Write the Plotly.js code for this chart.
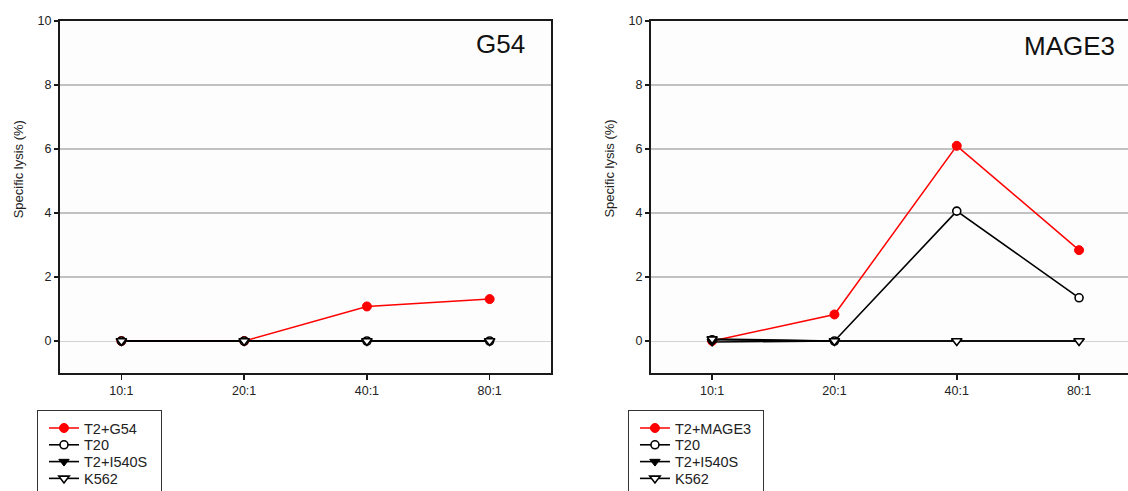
<!DOCTYPE html>
<html>
<head>
<meta charset="utf-8">
<script src="https://cdn.plot.ly/plotly-3.0.1.min.js"></script>
<style>
  html, body { margin: 0; padding: 0; background: #fff; overflow: hidden; }
  #chart { width: 1128px; height: 491px; }
</style>
</head>
<body>
<div id="chart"></div>
<script>
// Effector:target ratios on the x axis
const ratios = ["10:1", "20:1", "40:1", "80:1"];

// Panel G54 – specific lysis (%)
const g54Peptide = [0, 0, 1.08, 1.31];
const g54T20 = [0, 0, 0, 0];
const g54I540S = [0, 0, 0, 0];
const g54K562 = [0, 0, 0, 0];

// Panel MAGE3 – specific lysis (%)
const mage3Peptide = [0, 0.83, 6.1, 2.84];
const mage3T20 = [0.04, 0, 4.06, 1.35];
const mage3I540S = [-0.03, 0, 0, 0];
const mage3K562 = [0.06, 0, 0, 0];

const yTicks = [0, 2, 4, 6, 8, 10];
const panelTitles = ["G54", "MAGE3"];
const yTitle = "Specific lysis (%)";

const RED = "#ff0000";
const BLACK = "#000000";
const FONT = "Arial, Liberation Sans, sans-serif";

function series(name, values, xa, ya, legend, style) {
  return Object.assign({
    type: "scatter",
    mode: "lines+markers",
    name: name,
    x: ratios,
    y: values,
    xaxis: xa,
    yaxis: ya,
    legend: legend,
    cliponaxis: false
  }, style);
}

const sPeptide = {
  line: { color: RED, width: 1.5 },
  marker: { symbol: "circle", size: 9, color: RED, line: { color: RED, width: 1 } }
};
const sT20 = {
  line: { color: BLACK, width: 1.6 },
  marker: { symbol: "circle", size: 8, color: "#ffffff", line: { color: BLACK, width: 1.6 } }
};
const sI540S = {
  line: { color: BLACK, width: 1.6 },
  marker: { symbol: "triangle-down", size: 9, color: BLACK, line: { color: BLACK, width: 1 } }
};
const sK562 = {
  line: { color: BLACK, width: 1.6 },
  marker: { symbol: "triangle-down", size: 9, color: "#ffffff", line: { color: BLACK, width: 1.6 } }
};

const data = [
  series("T2+G54", g54Peptide, "x", "y", "legend", sPeptide),
  series("T20", g54T20, "x", "y", "legend", sT20),
  series("T2+I540S", g54I540S, "x", "y", "legend", sI540S),
  series("K562", g54K562, "x", "y", "legend", sK562),
  series("T2+MAGE3", mage3Peptide, "x2", "y2", "legend2", sPeptide),
  series("T20", mage3T20, "x2", "y2", "legend2", sT20),
  series("T2+I540S", mage3I540S, "x2", "y2", "legend2", sI540S),
  series("K562", mage3K562, "x2", "y2", "legend2", sK562)
];

const tickFont = { family: FONT, size: 12.5, color: "#222" };

function xAxis(domain, range, anchor) {
  return {
    domain: domain,
    anchor: anchor,
    type: "category",
    range: range,
    showline: true, linecolor: "#1a1a1a", linewidth: 2, mirror: true,
    ticks: "outside", ticklen: 5, tickwidth: 1.5, tickcolor: "#1a1a1a",
    showgrid: false, zeroline: false,
    tickfont: tickFont, fixedrange: true
  };
}
function yAxis(anchor, mirror) {
  return {
    domain: [0.2403, 0.9572],
    anchor: anchor,
    range: [-1, 10],
    tickvals: yTicks,
    showline: true, linecolor: "#1a1a1a", linewidth: 2, mirror: mirror,
    ticks: "outside", ticklen: 4, tickwidth: 1.5, tickcolor: "#1a1a1a",
    showgrid: true, gridcolor: "#c2c2c2", gridwidth: 1.8,
    zeroline: true, zerolinecolor: "#d2d2d2", zerolinewidth: 1,
    tickfont: tickFont,
    fixedrange: true
  };
}

const legendStyle = (x) => ({
  x: x, y: 0.165, xanchor: "left", yanchor: "top",
  bgcolor: "rgba(255,255,255,0)",
  bordercolor: "#333", borderwidth: 1,
  font: { family: FONT, size: 14.5, color: "#222" },
  tracegroupgap: 0,
  itemwidth: 30
});

const panelTitleFont = { family: FONT, size: 26, color: "#111" };
const yTitleFont = { family: FONT, size: 13, color: "#222" };

const layout = {
  width: 1128,
  height: 491,
  margin: { l: 0, r: 0, t: 0, b: 0, autoexpand: false },
  paper_bgcolor: "#ffffff",
  plot_bgcolor: "#fdfdfd",
  showlegend: true,
  xaxis: xAxis([0.0532, 0.4885], [-0.5, 3.5], "y"),
  yaxis: yAxis("x", true),
  xaxis2: xAxis([0.5771, 1.0], [-0.5, 3.4], "y2"),
  yaxis2: yAxis("x2", false),
  legend: legendStyle(0.0328),
  legend2: legendStyle(0.5567),
  annotations: [
    { text: panelTitles[0], xref: "x domain", yref: "y domain", x: 0.951, y: 0.935,
      xanchor: "right", yanchor: "middle", showarrow: false, font: panelTitleFont },
    { text: panelTitles[1], xref: "x2 domain", yref: "y2 domain", x: 0.977, y: 0.93,
      xanchor: "right", yanchor: "middle", showarrow: false, font: panelTitleFont },
    { text: yTitle, xref: "paper", yref: "paper", x: 0.0172, y: 0.656,
      xanchor: "center", yanchor: "middle", textangle: -90, showarrow: false, font: yTitleFont },
    { text: yTitle, xref: "paper", yref: "paper", x: 0.5405, y: 0.656,
      xanchor: "center", yanchor: "middle", textangle: -90, showarrow: false, font: yTitleFont }
  ]
};

// Legend rows are packed tighter than Plotly's default spacing and the
// glyphs sit a little further in from the frame.
const LEGEND_ROW = 16.8, LEGEND_FIRST = 18, LEGEND_INDENT = 6, LEGEND_H = 100;
const LEGEND_W = { legend: 124, legend2: 135 };

Plotly.newPlot("chart", data, layout, { displayModeBar: false, staticPlot: true }).then(gd => {
  gd.querySelectorAll("g.legend, g.legend2").forEach(lg => {
    const key = lg.classList.contains("legend2") ? "legend2" : "legend";
    const box = lg.querySelector("g.scrollbox");
    if (box) box.removeAttribute("clip-path");
    lg.querySelectorAll("g.traces").forEach((it, i) => {
      const m = /translate\(\s*([-\d.]+)[ ,]+([-\d.]+)/.exec(it.getAttribute("transform") || "");
      const x0 = m ? parseFloat(m[1]) : 0;
      it.setAttribute("transform", `translate(${x0 + LEGEND_INDENT}, ${LEGEND_FIRST + i * LEGEND_ROW})`);
    });
    const bg = lg.querySelector("rect.bg");
    if (bg) { bg.setAttribute("width", LEGEND_W[key]); bg.setAttribute("height", LEGEND_H); }
  });
});
</script>
</body>
</html>
